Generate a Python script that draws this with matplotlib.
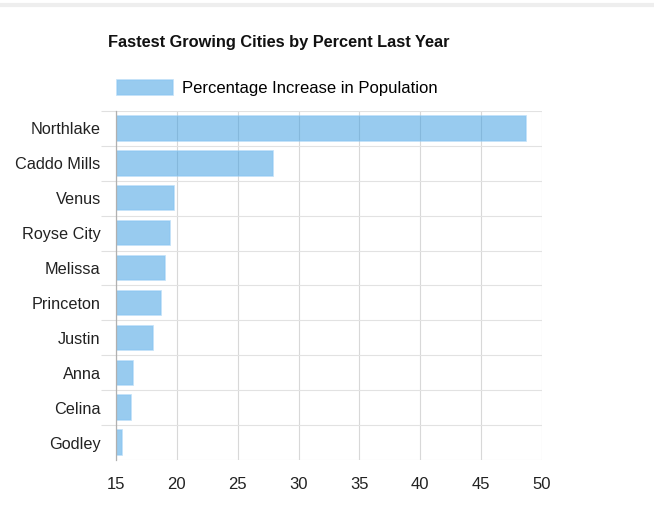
import numpy as np
import matplotlib
matplotlib.use("Agg")
import matplotlib.pyplot as plt
from matplotlib.lines import Line2D

cities = ["Northlake", "Caddo Mills", "Venus", "Royse City", "Melissa",
          "Princeton", "Justin", "Anna", "Celina", "Godley"]
pct = [48.7, 27.9, 19.8, 19.4, 19.0, 18.7, 18.0, 16.4, 16.2, 15.5]
xticks = [15, 20, 25, 30, 35, 40, 45, 50]
series_name = "Percentage Increase in Population"
title = "Fastest Growing Cities by Percent Last Year"

plt.rcParams["font.family"] = ["Liberation Sans", "DejaVu Sans"]

fig = plt.figure(figsize=(6.54, 5.08), dpi=100)
ax = fig.add_axes([116/654, 1-460/508, 426/654, 349/508])

y = np.arange(len(cities))
ax.barh(y, np.array(pct) - 15, left=15, height=0.7,
        color=(0.2, 0.6, 0.88, 0.5), edgecolor=(0.55, 0.78, 0.95, 0.6),
        linewidth=1.2, label=series_name, zorder=2)

ax.set_xlim(15, 50)
ax.set_ylim(len(cities) - 0.5, -0.5)
ax.set_xticks(xticks)
ax.set_xticklabels([str(t) for t in xticks])
ax.set_yticks(y)
ax.set_yticklabels(cities)
ax.set_yticks(np.arange(-0.5, len(cities) - 1), minor=True)

ax.tick_params(axis="x", length=0, pad=12, labelsize=12, colors="#222222")
ax.tick_params(axis="y", which="major", length=0, pad=11, labelsize=11.7, colors="#222222")
ax.tick_params(axis="y", which="minor", length=11, width=0.8, color="#e0e0e0")

ax.grid(axis="x", color="#d8d8d8", linewidth=0.8, zorder=0)
ax.grid(axis="y", which="minor", color="#e2e2e2", linewidth=0.8, zorder=0)
ax.axhline(len(cities) - 0.5, color="#e2e2e2", linewidth=0.8, zorder=0)
ax.set_axisbelow(True)

for s in ["top", "right", "bottom"]:
    ax.spines[s].set_visible(False)
ax.spines["left"].set_color("#b0b0b0")
ax.spines["left"].set_linewidth(0.9)

fig.text(279/654, 1-43/508, title, ha="center", va="center",
         fontsize=11.8, fontweight="bold", color="#111111")

ax.legend(loc="upper left", bbox_to_anchor=(117/654, 1-80/508),
          bbox_transform=fig.transFigure, frameon=False, fontsize=12,
          handlelength=3.35, handleheight=1.0, handletextpad=0.55,
          borderpad=0, borderaxespad=0)

fig.add_artist(Line2D([0, 1], [1-5/508, 1-5/508], transform=fig.transFigure,
                      color="#eeeeee", linewidth=3))

fig.savefig("out.png", dpi=100)
